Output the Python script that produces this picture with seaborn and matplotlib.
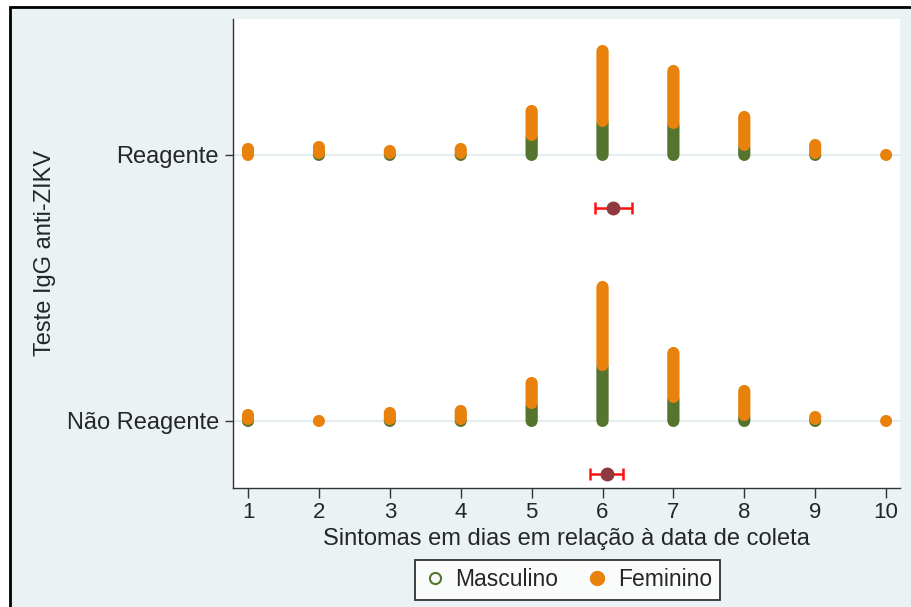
import numpy as np
import pandas as pd
import matplotlib
matplotlib.use("Agg")
import matplotlib.pyplot as plt
from matplotlib.lines import Line2D
from matplotlib.patches import Rectangle
import seaborn as sns

# ---------------- data ----------------
days = [1, 2, 3, 4, 5, 6, 7, 8, 9, 10]
groups = ["Reagente", "Não Reagente"]
sexes = ["Masculino", "Feminino"]
reag_masc = [0, 1, 1, 1, 10, 17, 16, 5, 1, 0]
reag_fem = [4, 4, 2, 3, 13, 36, 27, 15, 5, 1]
nao_masc = [1, 0, 1, 1, 9, 28, 12, 3, 1, 0]
nao_fem = [3, 1, 4, 5, 11, 40, 23, 13, 2, 1]

# ---------------- style ----------------
BG = "#eaf2f3"
GREEN = "#55752f"
ORANGE = "#e8820c"
MAROON = "#8e3a3f"
RED = "#ff1010"
GRID = "#e4eef0"

sns.set_theme(style="white")
plt.rcParams["font.family"] = ["Liberation Sans", "DejaVu Sans"]

W, H = 911, 607
fig = plt.figure(figsize=(W / 100, H / 100), dpi=100, facecolor="white")
fig.add_artist(Rectangle((10 / W, -0.02), 1.0, 1 - 7 / H + 0.02,
                         transform=fig.transFigure, facecolor=BG,
                         edgecolor="black", lw=2, zorder=-1))

ax = fig.add_axes([233 / W, 119 / H, 667 / W, 469 / H])
ax.set_facecolor("white")

# positions of the groups on the y axis
gpos = {"Reagente": 1.0, "Não Reagente": 0.0}
YMIN, YMAX = -0.252, 1.511
STEP = 2.0 * (YMAX - YMIN) / 469.0  # ~2 px stacking step

counts = {"Reagente": (reag_masc, reag_fem), "Não Reagente": (nao_masc, nao_fem)}
rows = []
for g in groups:
    masc, fem = counts[g]
    for d, m, f in zip(days, masc, fem):
        for i in range(m):
            rows.append((g, d, gpos[g] + i * STEP, "Masculino"))
        for i in range(f):
            rows.append((g, d, gpos[g] + (m + i) * STEP, "Feminino"))
df = pd.DataFrame(rows, columns=["grupo", "dia", "ypos", "sexo"])
df["sexo"] = pd.Categorical(df["sexo"], categories=sexes, ordered=True)
df = df.sort_values("sexo", kind="stable")

sns.scatterplot(data=df, x="dia", y="ypos", hue="sexo", hue_order=sexes,
                palette={"Masculino": GREEN, "Feminino": ORANGE},
                s=75, linewidth=0, legend=False, ax=ax, zorder=3)

# mean and 95% CI per group
for g in groups:
    masc, fem = counts[g]
    vals = np.repeat(days, np.array(masc) + np.array(fem))
    mean = vals.mean()
    se = vals.std(ddof=1) / np.sqrt(len(vals))
    ax.errorbar(mean, gpos[g] - 0.2, xerr=1.975 * se, fmt="o", color=MAROON,
                ms=9, ecolor=RED, elinewidth=1.8, capsize=4.5, capthick=1.8,
                zorder=4)

ax.set_xlim(0.788, 10.196)
ax.set_ylim(YMIN, YMAX)
ax.set_xticks(days)
ax.set_xticklabels([str(d) for d in days], fontsize=16)
ax.set_yticks([gpos[g] for g in groups])
ax.set_yticklabels(groups, fontsize=17)
ax.yaxis.grid(True, color=GRID, lw=1.5)
ax.set_axisbelow(True)
ax.tick_params(axis="x", length=7, width=1, color="#333333", pad=3,
               direction="out", bottom=True)
ax.tick_params(axis="y", length=6, width=1, color="#333333", pad=4,
               direction="out", left=True)
for s in ["top", "right"]:
    ax.spines[s].set_visible(False)
for s in ["left", "bottom"]:
    ax.spines[s].set_color("#333333")
    ax.spines[s].set_linewidth(1.0)

ax.set_xlabel("Sintomas em dias em relação à data de coleta", fontsize=17,
              labelpad=3.5)
ax.set_ylabel("Teste IgG anti-ZIKV", fontsize=17)
ax.yaxis.set_label_coords((56 - 233) / 667, 0.5)

handles = [
    Line2D([], [], marker="o", ls="", mfc="none", mec=GREEN, mew=1.5, ms=8),
    Line2D([], [], marker="o", ls="", mfc=ORANGE, mec=ORANGE, ms=10),
]
leg = fig.legend(handles, sexes, loc="center",
                 bbox_to_anchor=(567.5 / W, (H - 580) / H), ncol=2,
                 frameon=True, fancybox=False, fontsize=16.5,
                 handletextpad=0.4, columnspacing=1.2, borderpad=0.35,
                 handlelength=1.0)
leg.get_frame().set_edgecolor("black")
leg.get_frame().set_linewidth(1.3)
leg.get_frame().set_facecolor("white")

fig.savefig("out.png", dpi=100, facecolor=fig.get_facecolor())
